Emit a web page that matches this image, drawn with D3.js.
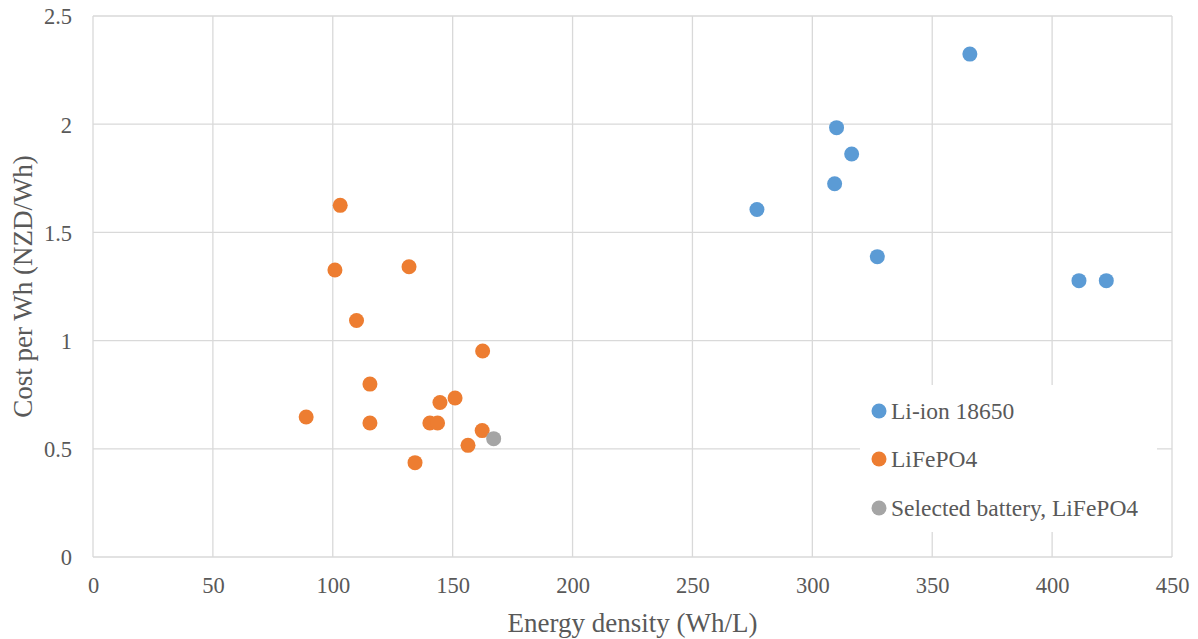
<!DOCTYPE html>
<html>
<head>
<meta charset="utf-8">
<script src="https://cdn.jsdelivr.net/npm/d3@7"></script>
<style>
  html, body { margin: 0; padding: 0; background: #fff; }
  svg { display: block; font-family: "Liberation Serif", "Times New Roman", serif; }
</style>
</head>
<body>
<svg id="chart" width="1198" height="639"></svg>
<script>
// Energy density (Wh/L) and cost per Wh (NZD/Wh) for each cell type
const liionDensity = [365.7, 310.1, 316.4, 309.3, 276.9, 327.1, 411.2, 422.6];
const liionCost    = [2.324, 1.984, 1.862, 1.725, 1.606, 1.388, 1.277, 1.277];

const lfpDensity = [103.1, 100.9, 131.8, 109.9, 162.5, 115.5, 151.0, 144.7, 88.9, 115.5, 140.5, 143.7, 162.3, 156.4, 134.3];
const lfpCost    = [1.625, 1.326, 1.341, 1.093, 0.952, 0.799, 0.735, 0.714, 0.647, 0.619, 0.619, 0.619, 0.584, 0.516, 0.436];

const selectedDensity = [167.1];
const selectedCost    = [0.547];

const xTicks = [0, 50, 100, 150, 200, 250, 300, 350, 400, 450];
const yTicks = [0, 0.5, 1, 1.5, 2, 2.5];
const yTickLabels = ["0", "0.5", "1", "1.5", "2", "2.5"];

const seriesNames = ["Li-ion 18650", "LiFePO4", "Selected battery, LiFePO4"];
const seriesColors = ["#5B9BD5", "#ED7D31", "#A5A5A5"];

const svg = d3.select("#chart");
const plotLeft = 93, plotRight = 1172, plotTop = 16, plotBottom = 557;

const x = d3.scaleLinear().domain([0, 450]).range([plotLeft, plotRight]);
const y = d3.scaleLinear().domain([0, 2.5]).range([plotBottom, plotTop]);

const gridColor = "#D9D9D9";
const textColor = "#595959";
const fontFamily = "Liberation Serif";

// Gridlines
svg.append("g")
  .selectAll("line")
  .data(xTicks)
  .join("line")
  .attr("x1", d => x(d)).attr("x2", d => x(d))
  .attr("y1", plotTop).attr("y2", plotBottom)
  .attr("stroke", gridColor).attr("stroke-width", 1.3);

svg.append("g")
  .selectAll("line")
  .data(yTicks)
  .join("line")
  .attr("x1", plotLeft).attr("x2", plotRight)
  .attr("y1", d => y(d)).attr("y2", d => y(d))
  .attr("stroke", gridColor).attr("stroke-width", 1.3);

// Axes (labels only; lines come from the grid)
const xAxis = d3.axisBottom(x).tickValues(xTicks).tickSize(0).tickPadding(0);
const gx = svg.append("g").attr("transform", `translate(0,${plotBottom})`).call(xAxis);
gx.select(".domain").remove();
gx.selectAll("text")
  .attr("y", 36).attr("dy", 0)
  .attr("fill", textColor).style("font-size", "22.5px").style("font-family", fontFamily);

const yAxis = d3.axisLeft(y).tickValues(yTicks).tickFormat((d, i) => yTickLabels[i]).tickSize(0).tickPadding(0);
const gy = svg.append("g").attr("transform", `translate(${plotLeft},0)`).call(yAxis);
gy.select(".domain").remove();
gy.selectAll("text")
  .attr("x", -21).attr("dy", "0.35em")
  .attr("fill", textColor).style("font-size", "22.5px").style("font-family", fontFamily);

// Axis titles
svg.append("text")
  .attr("x", (plotLeft + plotRight) / 2).attr("y", 632)
  .attr("text-anchor", "middle").attr("fill", textColor)
  .style("font-size", "27px").style("font-family", fontFamily)
  .text("Energy density (Wh/L)");

svg.append("text")
  .attr("transform", `translate(32,${(plotTop + plotBottom) / 2}) rotate(-90)`)
  .attr("text-anchor", "middle").attr("fill", textColor)
  .style("font-size", "27px").style("font-family", fontFamily)
  .text("Cost per Wh (NZD/Wh)");

// Points
const series = [
  { xs: liionDensity, ys: liionCost, color: seriesColors[0] },
  { xs: lfpDensity, ys: lfpCost, color: seriesColors[1] },
  { xs: selectedDensity, ys: selectedCost, color: seriesColors[2] }
];

series.forEach(s => {
  svg.append("g")
    .selectAll("circle")
    .data(s.xs.map((d, i) => [d, s.ys[i]]))
    .join("circle")
    .attr("cx", d => x(d[0]))
    .attr("cy", d => y(d[1]))
    .attr("r", 7.5)
    .attr("fill", s.color);
});

// Legend
const legend = svg.append("g");
legend.append("rect")
  .attr("x", 860).attr("y", 385).attr("width", 297).attr("height", 147)
  .attr("fill", "#fff");

const legendRows = [411, 459, 508];
seriesNames.forEach((name, i) => {
  legend.append("circle")
    .attr("cx", 879).attr("cy", legendRows[i]).attr("r", 7.5)
    .attr("fill", seriesColors[i]);
  legend.append("text")
    .attr("x", 891).attr("y", legendRows[i] + 8)
    .attr("fill", textColor).style("font-size", "23.5px").style("font-family", fontFamily)
    .text(name);
});
</script>
</body>
</html>
